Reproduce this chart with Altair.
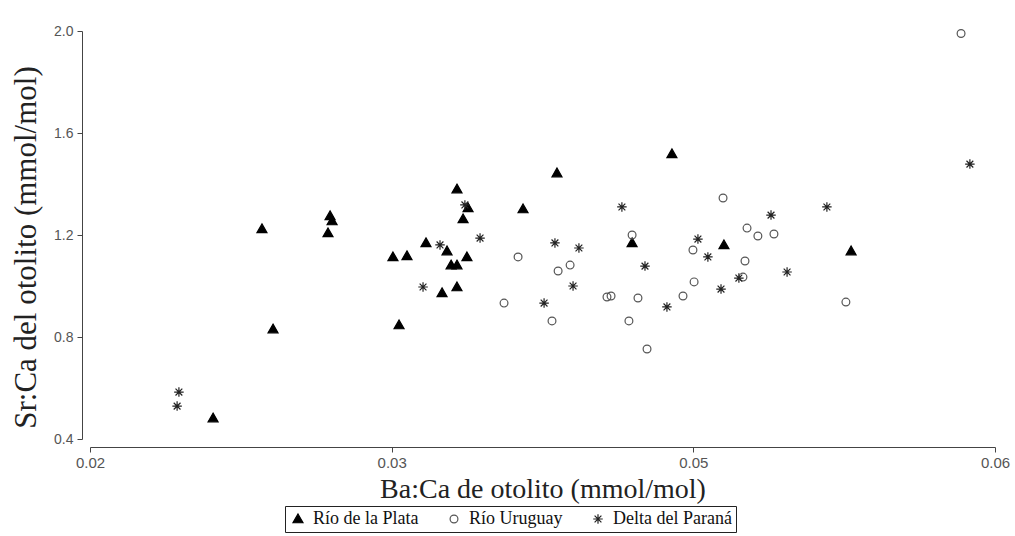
import altair as alt
import pandas as pd

groups = ["Río de la Plata", "Río Uruguay", "Delta del Paraná"]

plata_x = [0.02544, 0.02760, 0.02809, 0.03061, 0.03070, 0.03052, 0.03339, 0.03401,
           0.03366, 0.03485, 0.03578, 0.03622, 0.03671, 0.03649, 0.03666, 0.03596,
           0.03622, 0.03556, 0.03622, 0.03914, 0.04064, 0.04396, 0.04572, 0.04802,
           0.05364]
plata_y = [0.482, 1.224, 0.831, 1.275, 1.255, 1.208, 1.114, 1.118,
           0.847, 1.169, 1.137, 1.380, 1.306, 1.263, 1.114, 1.082,
           1.082, 0.973, 0.996, 1.302, 1.443, 1.169, 1.518, 1.161,
           1.137]

uruguay_x = [0.03892, 0.04122, 0.04069, 0.04396, 0.03830, 0.04042, 0.04285, 0.04303,
             0.04422, 0.04382, 0.04462, 0.04798, 0.04904, 0.04952, 0.05023, 0.04665,
             0.04895, 0.04886, 0.04670, 0.04621, 0.05341, 0.05850]
uruguay_y = [1.114, 1.082, 1.059, 1.200, 0.933, 0.863, 0.957, 0.961,
             0.953, 0.863, 0.753, 1.345, 1.227, 1.196, 1.204, 1.141,
             1.098, 1.035, 1.016, 0.961, 0.937, 1.990]

delta_x = [0.02393, 0.02385, 0.03547, 0.03657, 0.03724, 0.03472, 0.04055, 0.04161,
           0.04351, 0.04453, 0.04007, 0.04135, 0.05257, 0.05010, 0.04687, 0.04731,
           0.04868, 0.05081, 0.04789, 0.04550, 0.05889]
delta_y = [0.584, 0.529, 1.161, 1.318, 1.188, 0.996, 1.169, 1.149,
           1.310, 1.078, 0.933, 1.000, 1.310, 1.278, 1.184, 1.114,
           1.031, 1.055, 0.988, 0.918, 1.478]

x_ticks = [0.02, 0.0333333, 0.0466667, 0.06]
y_ticks = [0.4, 0.8, 1.2, 1.6, 2.0]

rows = []
for g, xs, ys in [(groups[0], plata_x, plata_y), (groups[1], uruguay_x, uruguay_y),
                  (groups[2], delta_x, delta_y)]:
    for a, b in zip(xs, ys):
        rows.append({"x": a, "y": b, "grupo": g})
df = pd.DataFrame(rows)

TRIANGLE = "M0,-1L1,0.75L-1,0.75Z"
CIRCLE = "M0.78,0A0.78,0.78,0,1,1,-0.78,0A0.78,0.78,0,1,1,0.78,0Z"
ASTERISK = "M-0.95,0L0.95,0M0,-0.95L0,0.95M-0.68,-0.68L0.68,0.68M-0.68,0.68L0.68,-0.68"

leg = alt.Legend(title=None, orient="none", direction="horizontal", legendX=195, legendY=475,
                 strokeColor="#222", padding=4, labelFont="Liberation Serif", labelFontSize=18,
                 labelColor="#111", columnPadding=26, labelOffset=6, symbolStrokeWidth=1.3,
                 symbolSize=100)

chart = alt.Chart(df).mark_point(filled=True, opacity=1, size=100).encode(
    x=alt.X("x:Q", scale=alt.Scale(domain=[0.02, 0.06], nice=False, zero=False),
            axis=alt.Axis(values=x_ticks, format=".2f", offset=8, tickSize=5, grid=False,
                          labelFlush=False,
                          domainColor="#444", tickColor="#444", labelColor="#555",
                          labelFont="Liberation Sans", labelFontSize=15, labelPadding=3,
                          title="Ba:Ca de otolito (mmol/mol)", titleFont="Liberation Serif",
                          titleFontSize=28, titleFontWeight="normal", titleColor="#222",
                          titleY=50, titleBaseline="alphabetic")),
    y=alt.Y("y:Q", scale=alt.Scale(domain=[0.4, 2.0], nice=False, zero=False),
            axis=alt.Axis(values=y_ticks, format=".1f", offset=8, tickSize=5, grid=False,
                          labelFlush=False,
                          domainColor="#444", tickColor="#444", labelColor="#555",
                          labelFont="Liberation Sans", labelFontSize=14, labelPadding=4,
                          title="Sr:Ca del otolito (mmol/mol)", titleFont="Liberation Serif",
                          titleFontSize=31, titleFontWeight="normal", titleColor="#222",
                          titleAngle=270, titleX=-56, titleY=216, titleAlign="center",
                          titleBaseline="middle")),
    shape=alt.Shape("grupo:N", scale=alt.Scale(domain=groups,
                    range=[TRIANGLE, CIRCLE, ASTERISK]), legend=leg),
    fill=alt.Fill("grupo:N", scale=alt.Scale(domain=groups,
                  range=["black", "transparent", "transparent"]), legend=leg),
    stroke=alt.Stroke("grupo:N", scale=alt.Scale(domain=groups,
                      range=["black", "#555", "#222"]), legend=leg),
).properties(
    width=905, height=408,
    autosize=alt.AutoSizeParams(type="none"),
    padding={"left": 90, "top": 31, "right": 20, "bottom": 97},
).configure_view(stroke="transparent").configure_point(strokeWidth=1.2)

chart.save("out.html", embed_options={"renderer": "svg", "actions": False})
